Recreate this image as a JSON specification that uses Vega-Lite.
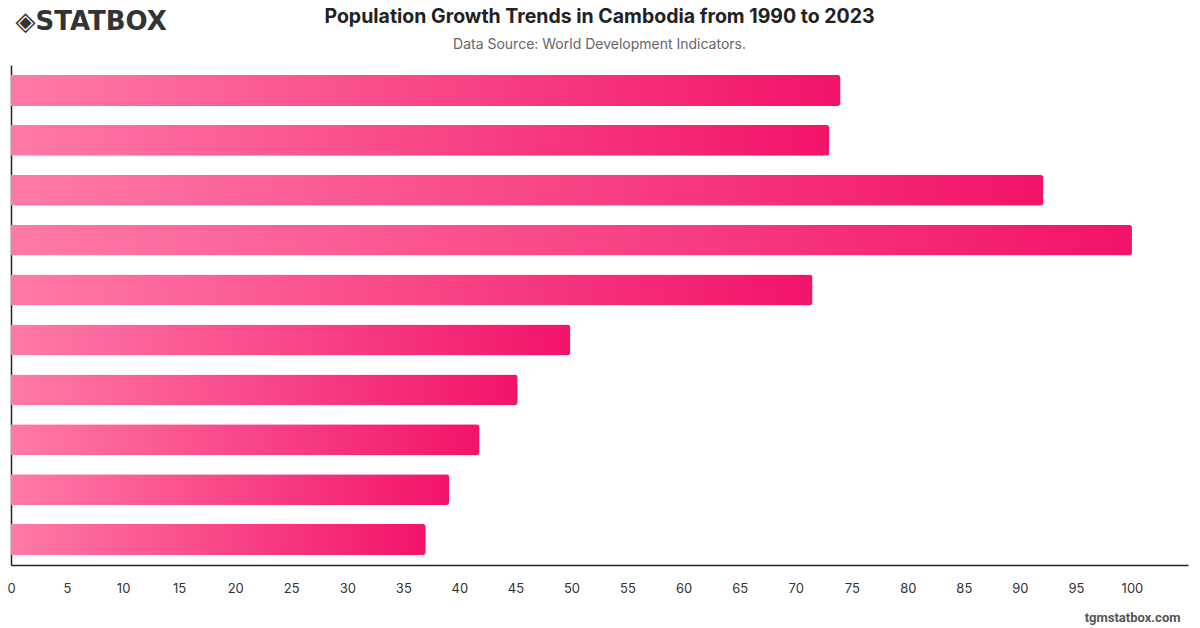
{
  "$schema": "https://vega.github.io/schema/vega-lite/v6.json",
  "width": 1177,
  "height": 500,
  "autosize": {"type": "none"},
  "padding": {"left": 11, "top": 65, "right": 12, "bottom": 63},
  "background": "white",
  "title": {
    "text": "Population Growth Trends in Cambodia from 1990 to 2023",
    "subtitle": "Data Source: World Development Indicators.",
    "font": "Inter",
    "fontSize": 19.5,
    "fontWeight": "bold",
    "color": "#222222",
    "subtitleFont": "Inter",
    "subtitleFontSize": 14,
    "subtitleColor": "#666666",
    "subtitlePadding": 11,
    "anchor": "middle",
    "offset": -45
  },
  "data": {
    "values": [
      {"year": "2014", "value": 74.0},
      {"year": "2015", "value": 73.0},
      {"year": "2016", "value": 92.1},
      {"year": "2017", "value": 100.0},
      {"year": "2018", "value": 71.5},
      {"year": "2019", "value": 49.9},
      {"year": "2020", "value": 45.2},
      {"year": "2021", "value": 41.8},
      {"year": "2022", "value": 39.1},
      {"year": "2023", "value": 37.0}
    ]
  },
  "mark": {
    "type": "bar",
    "cornerRadiusEnd": 3,
    "color": {
      "gradient": "linear",
      "x1": 0, "x2": 1, "y1": 0, "y2": 0,
      "stops": [
        {"offset": 0, "color": "#FF7AA8"},
        {"offset": 1, "color": "#F2136A"}
      ]
    }
  },
  "encoding": {
    "y": {
      "field": "year",
      "type": "nominal",
      "sort": null,
      "scale": {"paddingInner": 0.38, "paddingOuter": 0.2},
      "axis": {
        "labels": false,
        "ticks": false,
        "domain": true,
        "domainColor": "#222222",
        "domainWidth": 1.5,
        "title": "◈STATBOX",
        "titleAngle": 0,
        "titleX": 4,
        "titleY": -44,
        "titleAlign": "left",
        "titleBaseline": "middle",
        "titleFont": "DejaVu Sans",
        "titleFontSize": 26,
        "titleFontWeight": "bold",
        "titleColor": "#333333"
      }
    },
    "x": {
      "field": "value",
      "type": "quantitative",
      "scale": {"domain": [0, 105], "nice": false},
      "axis": {
        "values": [0,5,10,15,20,25,30,35,40,45,50,55,60,65,70,75,80,85,90,95,100],
        "grid": false,
        "ticks": false,
        "domain": true,
        "domainColor": "#222222",
        "domainWidth": 1.5,
        "labelPadding": 17,
        "labelFont": "Inter",
        "labelFontSize": 13,
        "labelColor": "#333333",
        "labelFlush": false,
        "title": "tgmstatbox.com",
        "titleX": 1169,
        "titleY": 52,
        "titleAlign": "right",
        "titleBaseline": "middle",
        "titleFont": "Roboto",
        "titleFontSize": 13,
        "titleFontWeight": "bold",
        "titleColor": "#555555"
      }
    }
  },
  "config": {"view": {"stroke": null}}
}
